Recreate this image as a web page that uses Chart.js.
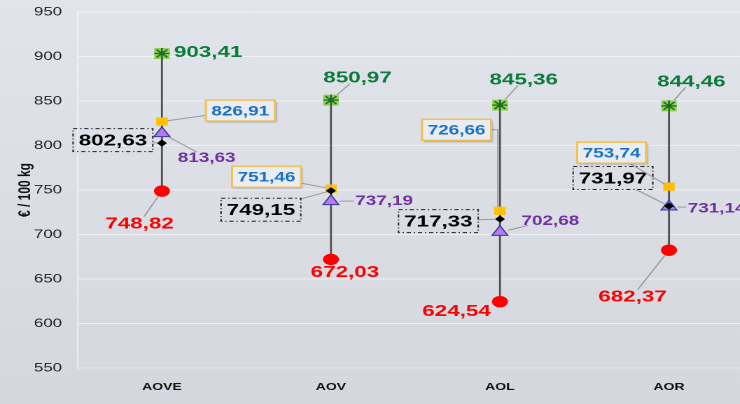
<!DOCTYPE html>
<html>
<head>
<meta charset="utf-8">
<script src="https://cdn.jsdelivr.net/npm/chart.js@4.4.1/dist/chart.umd.min.js"></script>
<style>
  html, body { margin: 0; padding: 0; overflow: hidden; }
  body { width: 740px; height: 404px; background: linear-gradient(#e1e4eb, #d4d7de); }
  /* the reference is stretched horizontally, so the chart is drawn narrow and widened */
  #wrap { width: 546px; height: 404px; transform: scaleX(1.4); transform-origin: 0 0; }
</style>
</head>
<body>
<div id="wrap"><canvas id="priceChart" width="546" height="404"></canvas></div>
<script>
var categories = ['AOVE', 'AOV', 'AOL', 'AOR'];
var maxValues    = [903.41, 850.97, 845.36, 844.46];
var yellowValues = [826.91, 751.46, 726.66, 753.74];
var purpleValues = [813.63, 737.19, 702.68, 731.14];
var blackValues  = [802.63, 749.15, 717.33, 731.97];
var minValues    = [748.82, 672.03, 624.54, 682.37];
var yMin = 550, yMax = 950, yStep = 50;

// label offsets (px from the marker, before widening)
var maxOffsets    = [[33, -2], [19, -23], [17, -26], [16, -25]];
var yellowOffsets = [[56, -11], [-46, -12], [-31, -81], [-41, -34]];
var purpleOffsets = [[32, 24], [38, -1], [36, -12], [34, 1]];
var blackOffsets  = [[-35, -3], [-50, 19], [-44, 2], [-40, -28]];
var minOffsets    = [[-16, 32], [10, 12], [-31, 9], [-26, 46]];

var fmt = function (v) { return v.toFixed(2).replace('.', ','); };
var fontFamily = '"Liberation Sans", Arial, sans-serif';

var labelSeries = [
    { values: minValues, offsets: minOffsets, color: '#ff0000', size: 16, r: 6, leader: [true, false, false, true] },
    { values: maxValues, offsets: maxOffsets, color: '#0b7a3b', size: 16, r: 7, leader: [false, true, true, true] },
    { values: blackValues, offsets: blackOffsets, color: '#000000', size: 16, r: 3, leader: [true, true, true, true], box: 'dash' },
    { values: purpleValues, offsets: purpleOffsets, color: '#7030a0', size: 13.5, r: 6, leader: [true, true, true, true] },
    { values: yellowValues, offsets: yellowOffsets, color: '#1a72c4', size: 13.5, r: 4, leader: [true, true, 'elbow', true], box: 'gold' }
];

// min-max range line behind the markers
var rangeLines = {
    id: 'rangeLines',
    beforeDatasetsDraw: function (chart) {
        var ctx = chart.ctx, xs = chart.scales.x, ys = chart.scales.y;
        ctx.save();
        ctx.strokeStyle = '#505050';
        ctx.lineWidth = 1.4;
        minValues.forEach(function (v, i) {
            var px = xs.getPixelForValue(i);
            ctx.beginPath();
            ctx.moveTo(px, ys.getPixelForValue(v));
            ctx.lineTo(px, ys.getPixelForValue(maxValues[i]));
            ctx.stroke();
        });
        ctx.restore();
    }
};

var valueLabels = {
    id: 'valueLabels',
    afterDatasetsDraw: function (chart) {
        var ctx = chart.ctx, xs = chart.scales.x, ys = chart.scales.y;
        labelSeries.forEach(function (s) {
            s.values.forEach(function (v, i) {
                var px = xs.getPixelForValue(i), py = ys.getPixelForValue(v);
                var cx = px + s.offsets[i][0], cy = py + s.offsets[i][1];
                var text = fmt(v);
                ctx.save();
                ctx.font = 'bold ' + s.size + 'px ' + fontFamily;
                var tw = ctx.measureText(text).width;
                var hw = tw / 2 + (s.box ? 4 : 1), hh = s.box ? (s.box === 'dash' ? 11.5 : 10.5) : s.size * 0.4;

                ctx.strokeStyle = '#9a9a9a';
                ctx.lineWidth = 1;
                if (s.leader[i] === 'elbow') {
                    ctx.beginPath();
                    ctx.moveTo(cx + hw, cy);
                    ctx.lineTo(px - 1.5, cy);
                    ctx.lineTo(px - 1.5, py - s.r);
                    ctx.stroke();
                } else if (s.leader[i]) {
                    var dx = px - cx, dy = py - cy;
                    var t = Math.min(dx ? hw / Math.abs(dx) : 1e9, dy ? hh / Math.abs(dy) : 1e9);
                    var len = Math.sqrt(dx * dx + dy * dy);
                    if (t < 1) {
                        ctx.beginPath();
                        ctx.moveTo(cx + dx * t, cy + dy * t);
                        ctx.lineTo(px - dx / len * s.r, py - dy / len * s.r);
                        ctx.stroke();
                    }
                }

                if (s.box === 'gold') {
                    ctx.save();
                    ctx.shadowColor = 'rgba(0,0,0,0.35)';
                    ctx.shadowOffsetX = 2;
                    ctx.shadowOffsetY = 3;
                    ctx.shadowBlur = 3;
                    ctx.fillStyle = '#e9ecf2';
                    ctx.fillRect(cx - hw, cy - hh, hw * 2, hh * 2);
                    ctx.restore();
                    ctx.strokeStyle = '#f2c14e';
                    ctx.lineWidth = 1.5;
                    ctx.strokeRect(cx - hw, cy - hh, hw * 2, hh * 2);
                } else if (s.box === 'dash') {
                    ctx.setLineDash([3, 2, 1, 2]);
                    ctx.strokeStyle = '#222';
                    ctx.lineWidth = 1;
                    ctx.strokeRect(cx - hw, cy - hh, hw * 2, hh * 2);
                    ctx.setLineDash([]);
                }

                ctx.fillStyle = s.color;
                ctx.textAlign = 'center';
                ctx.textBaseline = 'middle';
                ctx.fillText(text, cx, cy + 1);
                ctx.restore();
            });
        });
    }
};

var markers = function (data, style, radius, fill, border, borderWidth, order) {
    return {
        type: 'line', data: data, showLine: false, order: order,
        pointStyle: style, pointRadius: radius, pointHoverRadius: radius,
        backgroundColor: fill, borderColor: border, borderWidth: borderWidth
    };
};

var ctx = document.getElementById('priceChart');
new Chart(ctx, {
    type: 'line',
    data: {
        labels: categories,
        datasets: [
            markers(minValues, 'circle', 5.7, '#ff0000', '#ff0000', 0, 6),
            markers(maxValues, 'rect', 7.8, '#8fd14f', '#8fd14f', 0, 5),
            markers(maxValues, 'star', 5.5, 'rgba(0,0,0,0)', '#1d6b2c', 1.3, 4),
            markers(yellowValues, 'rect', 5.8, '#ffc000', '#ffc000', 0, 3),
            markers(purpleValues, 'triangle', 6.5, '#b57bee', '#3a3a9a', 1, 2),
            markers(blackValues, 'rectRot', 3.6, '#000000', '#000000', 0, 1)
        ]
    },
    options: {
        responsive: false,
        animation: false,
        devicePixelRatio: 2,
        layout: { padding: { top: 12, left: 0, right: 0, bottom: 0 } },
        plugins: { legend: { display: false }, tooltip: { enabled: false } },
        scales: {
            x: {
                offset: true,
                grid: { display: false },
                border: { display: false },
                ticks: { color: '#111', padding: 5, font: { family: fontFamily, size: 10, weight: 'bold' } },
                afterFit: function (s) { s.height = 36; }
            },
            y: {
                min: yMin, max: yMax,
                ticks: { stepSize: yStep, color: '#222', padding: 11, font: { family: fontFamily, size: 12 } },
                grid: { color: 'rgba(255,255,255,0.55)', drawTicks: false },
                border: { display: true, color: 'rgba(255,255,255,0.55)' },
                title: {
                    display: true, text: '€ / 100 kg', color: '#111',
                    padding: { top: 11, bottom: 0 },
                    font: { family: fontFamily, size: 12, weight: 'bold' }
                },
                afterFit: function (s) { s.width = 55.3; s.paddingTop = 0; s.paddingBottom = 0; }
            }
        }
    },
    plugins: [rangeLines, valueLabels]
});
</script>
</body>
</html>
